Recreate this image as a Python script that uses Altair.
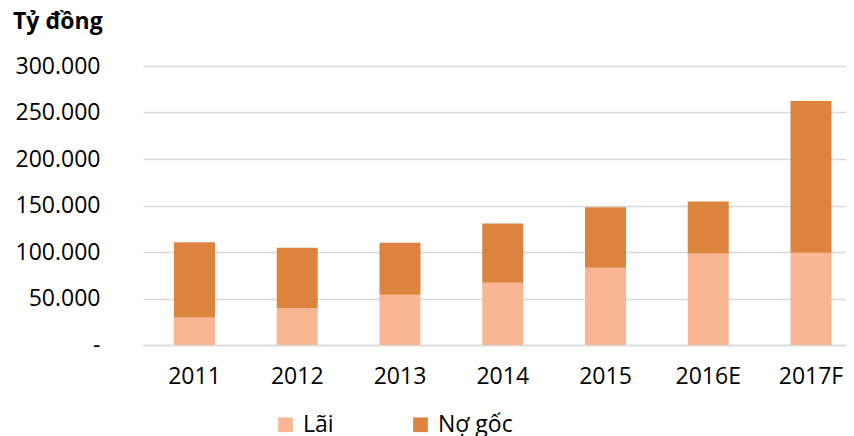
import altair as alt
import pandas as pd

years = ["2011", "2012", "2013", "2014", "2015", "2016E", "2017F"]
lai = [29600, 39700, 54000, 66900, 83000, 98400, 99100]
no_goc = [81000, 64800, 55900, 63700, 65200, 55900, 163300]
series = ["Lãi", "Nợ gốc"]
colors = ["#F8B692", "#DC843F"]
y_ticks = [0, 50000, 100000, 150000, 200000, 250000, 300000]
unit_title = "Tỷ đồng"

rows = []
for i, yr in enumerate(years):
    rows.append({"year": yr, "series": series[0], "value": lai[i], "o": 0})
    rows.append({"year": yr, "series": series[1], "value": no_goc[i], "o": 1})
df = pd.DataFrame(rows)

FONT = "Open Sans"

bars = alt.Chart(df).mark_bar().encode(
    x=alt.X("year:N", sort=years,
            scale=alt.Scale(paddingInner=0.601, paddingOuter=0.2214, align=0.681),
            axis=alt.Axis(title=None, labelAngle=0, ticks=False,
                          labelPadding=20, labelFontSize=23, labelFont=FONT,
                          labelColor="#000000", domainColor="#d9d9d9",
                          domainWidth=1.5, grid=False)),
    y=alt.Y("value:Q", stack="zero",
            scale=alt.Scale(domain=[0, 300000], nice=False),
            axis=alt.Axis(title=None, values=y_ticks, ticks=False, domain=False,
                          labelPadding=43, labelFontSize=23, labelFont=FONT,
                          labelColor="#000000", gridColor="#d9d9d9", gridWidth=1.5,
                          labelExpr="datum.value == 0 ? '-\u00a0\u00a0' : replace(format(datum.value, ','), ',', '.')")),
    color=alt.Color("series:N", sort=series,
                    scale=alt.Scale(domain=series, range=colors),
                    legend=alt.Legend(title=None, orient="none", legendX=131, legendY=347,
                                      direction="horizontal", symbolType="square",
                                      symbolSize=216, symbolStrokeWidth=0,
                                      labelFontSize=23, labelFont=FONT, labelColor="#000000",
                                      columnPadding=75, labelOffset=6)),
    order=alt.Order("o:Q", sort="ascending"),
)

title_df = pd.DataFrame({"t": [unit_title]})
title = alt.Chart(title_df).mark_text(
    align="left", baseline="alphabetic", font=FONT, fontSize=23,
    fontWeight="bold", color="#000000"
).encode(text="t:N", x=alt.value(-130), y=alt.value(-37))

chart = alt.layer(bars, title).properties(
    width=703, height=279,
    autosize=alt.AutoSizeParams(type="none"),
    padding={"left": 135, "top": 58, "right": 0, "bottom": 91},
).configure_view(stroke=None)

chart.save("out.html", embed_options={"renderer": "svg", "actions": False})
